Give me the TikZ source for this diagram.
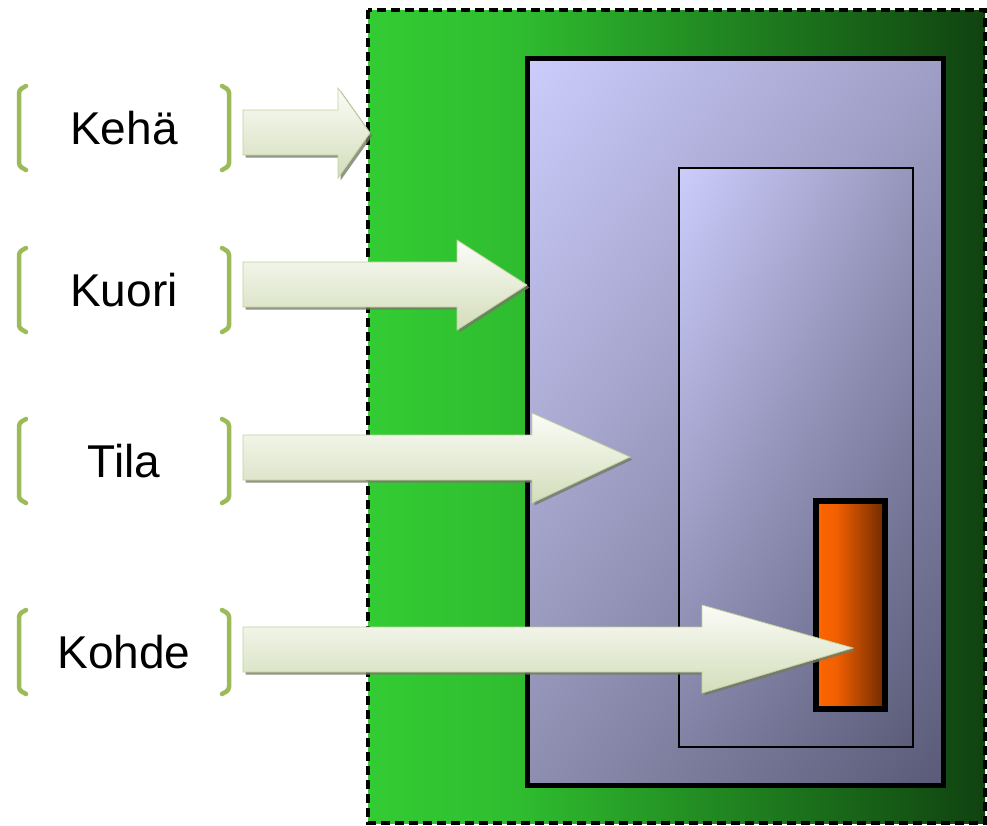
\documentclass[tikz,border=0pt]{standalone}
\usepackage{fontspec}
\setmainfont{Liberation Sans}
\usetikzlibrary{shadows,shadings}

\definecolor{bracketgreen}{HTML}{9BBB59}
\definecolor{arrowtop}{HTML}{FBFCF7}
\definecolor{arrowbot}{HTML}{D3DDBA}
\definecolor{arrowedge}{HTML}{C2D19E}
\definecolor{fieldA}{HTML}{33CC33}
\definecolor{fieldB}{HTML}{2FBD2F}
\definecolor{fieldC}{HTML}{1F7F1F}
\definecolor{fieldD}{HTML}{104210}
\definecolor{orangeA}{HTML}{FF6600}
\definecolor{orangeB}{HTML}{F05F00}
\definecolor{orangeC}{HTML}{6E2A00}
\definecolor{lavUL}{HTML}{CDCDFD}
\definecolor{lavUR}{HTML}{9E9EC6}
\definecolor{lavLL}{HTML}{8E8EB0}
\definecolor{lavLR}{HTML}{5A5A78}
\definecolor{roomUR}{HTML}{9696BC}
\definecolor{roomLL}{HTML}{8282A5}
\definecolor{roomLR}{HTML}{5C5C7A}

% horizontal fades (stops inside 25bp..75bp span the filled box)
\pgfdeclarehorizontalshading{fieldfade}{100bp}{%
  color(0bp)=(fieldA); color(25bp)=(fieldA); color(37bp)=(fieldB);
  color(56bp)=(fieldC); color(75bp)=(fieldD); color(100bp)=(fieldD)}
\pgfdeclarehorizontalshading{targetfade}{100bp}{%
  color(0bp)=(orangeA); color(25bp)=(orangeA); color(40bp)=(orangeB);
  color(75bp)=(orangeC); color(100bp)=(orangeC)}

\tikzset{
  label text/.style={font=\fontsize{46}{50}\selectfont, text=black},
  bracket/.style={draw=bracketgreen, line width=4.5pt, line cap=round,
    rounded corners=3pt},
  bigarrow/.style={draw=arrowedge, line width=0.8pt, top color=arrowtop,
    bottom color=arrowbot,
    drop shadow={shadow xshift=2.5pt, shadow yshift=-2.5pt,
      fill=black!45!arrowbot, opacity=0.8}},
}

\begin{document}
\begin{tikzpicture}[x=1pt, y=-1pt]
  \useasboundingbox (0,0) rectangle (987,825);

  % zones, from the surrounding ring inwards
  \shade[shading=fieldfade] (368,10) rectangle (985,823);
  \draw[black, line width=3.2pt, dash pattern=on 9pt off 5pt]
    (368,10) rectangle (985,823);

  \shade[upper left=lavUL, upper right=lavUR, lower left=lavLL,
         lower right=lavLR]
    (527,58) rectangle (943,785);
  \draw[black, line width=5pt] (527,58) rectangle (943,785);

  \shade[upper left=lavUL, upper right=roomUR, lower left=roomLL,
         lower right=roomLR]
    (679,168) rectangle (913,747);
  \draw[black, line width=2.5pt] (679,168) rectangle (913,747);

  \shade[shading=targetfade] (816,501) rectangle (885,709);
  \draw[black, line width=6pt] (816,501) rectangle (885,709);

  % labels between green brackets
  \foreach \n/\t/\y in {kehae/Kehä/128, kuori/Kuori/290, tila/Tila/461, kohde/Kohde/652}{
    \node[label text] (\n) at (124,\y) {\t};
    \draw[bracket] (26,\y-42) -- (19,\y-38) -- (19,\y+38) -- (26,\y+42);
    \draw[bracket] (222,\y-42) -- (229,\y-38) -- (229,\y+38) -- (222,\y+42);
  }

  % block arrows pointing into each zone
  \path[bigarrow] (243,110) -- (338,110) -- (338,88) -- (370,133)
    -- (338,178) -- (338,155) -- (243,155) -- cycle;
  \path[bigarrow] (243,262) -- (457,262) -- (457,240) -- (527,285)
    -- (457,330) -- (457,307) -- (243,307) -- cycle;
  \path[bigarrow] (243,435) -- (532,435) -- (532,413) -- (630,457)
    -- (532,503) -- (532,480) -- (243,480) -- cycle;
  \path[bigarrow] (243,627) -- (702,627) -- (702,605) -- (853,648)
    -- (702,693) -- (702,672) -- (243,672) -- cycle;
\end{tikzpicture}
\end{document}
